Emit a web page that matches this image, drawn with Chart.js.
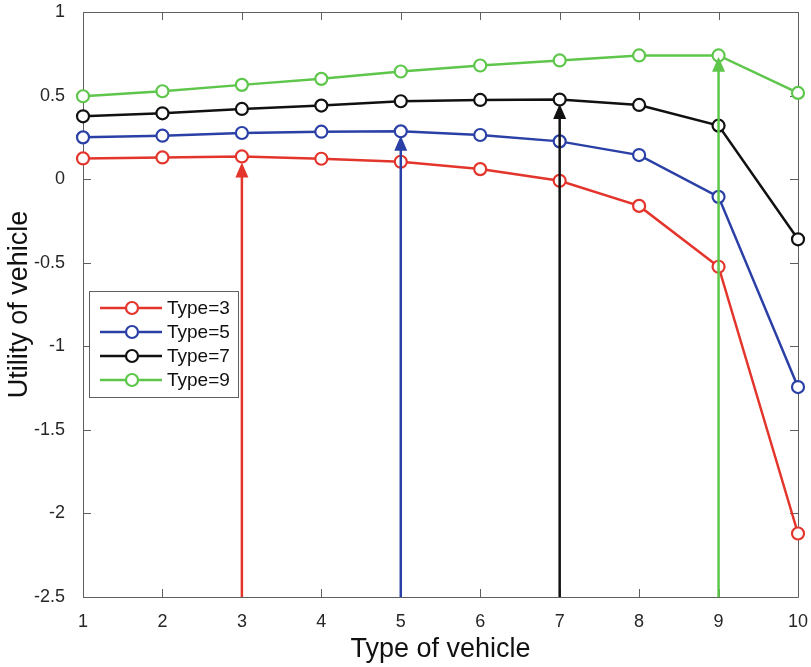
<!DOCTYPE html>
<html>
<head>
<meta charset="utf-8">
<script src="https://cdn.jsdelivr.net/npm/chart.js@4.4.1/dist/chart.umd.min.js"></script>
<style>
    body { margin: 0; background: #fff; }
    #chart { display: block; }
</style>
</head>
<body>
<canvas id="chart" width="811" height="667"></canvas>
<script>
// ===== DATA =====
const vehicleTypes = [1, 2, 3, 4, 5, 6, 7, 8, 9, 10];
const type3 = [0.124, 0.130, 0.136, 0.122, 0.104, 0.060, -0.010, -0.160, -0.524, -2.120];
const type5 = [0.250, 0.260, 0.276, 0.284, 0.286, 0.264, 0.226, 0.144, -0.106, -1.244];
const type7 = [0.376, 0.394, 0.420, 0.440, 0.466, 0.474, 0.476, 0.444, 0.320, -0.360];
const type9 = [0.496, 0.526, 0.564, 0.600, 0.644, 0.680, 0.710, 0.740, 0.740, 0.516];
const seriesLabels = ['Type=3', 'Type=5', 'Type=7', 'Type=9'];
const seriesColors = ['#e3352b', '#2b40a6', '#111111', '#5ec64b'];

// arrows: vertical markers from the bottom up to each type's optimum
const arrowX = [3, 5, 7, 9];
const arrowTop = [0.10, 0.26, 0.45, 0.732];

const yTicks = [1, 0.5, 0, -0.5, -1, -1.5, -2, -2.5];

const AXIS_GRAY = '#5f5f5f';
const TEXT_COLOR = '#262626';
const FONT = '"Liberation Sans", Arial, Helvetica, sans-serif';

function toPoints(values) {
    return vehicleTypes.map((x, i) => ({ x: x, y: values[i] }));
}

// ===== BOX + INWARD TICKS (MATLAB style) =====
const boxPlugin = {
    id: 'boxPlugin',
    beforeDatasetsDraw(chart) {
        const { ctx, chartArea: a, scales: { x, y } } = chart;
        const tl = 8;
        ctx.save();
        ctx.strokeStyle = AXIS_GRAY;
        ctx.lineWidth = 1;
        ctx.beginPath();
        ctx.rect(a.left + 0.5, a.top + 0.5, a.right - a.left, a.bottom - a.top);
        vehicleTypes.forEach(v => {
            const px = Math.round(x.getPixelForValue(v)) + 0.5;
            ctx.moveTo(px, a.bottom); ctx.lineTo(px, a.bottom - tl);
            ctx.moveTo(px, a.top); ctx.lineTo(px, a.top + tl);
        });
        yTicks.forEach(v => {
            const py = Math.round(y.getPixelForValue(v)) + 0.5;
            ctx.moveTo(a.left, py); ctx.lineTo(a.left + tl, py);
            ctx.moveTo(a.right, py); ctx.lineTo(a.right - tl, py);
        });
        ctx.stroke();
        ctx.restore();
    }
};

// ===== ARROWS =====
const arrowPlugin = {
    id: 'arrowPlugin',
    afterDatasetsDraw(chart) {
        const { ctx, scales: { x, y } } = chart;
        const headLen = 15, headHalf = 6.5;
        ctx.save();
        arrowX.forEach((v, i) => {
            const px = x.getPixelForValue(v);
            const yb = y.getPixelForValue(y.min);
            const yt = y.getPixelForValue(arrowTop[i]);
            ctx.strokeStyle = seriesColors[i];
            ctx.fillStyle = seriesColors[i];
            ctx.lineWidth = 2.5;
            ctx.beginPath();
            ctx.moveTo(px, yb);
            ctx.lineTo(px, yt + headLen - 1);
            ctx.stroke();
            ctx.beginPath();
            ctx.moveTo(px, yt);
            ctx.lineTo(px - headHalf, yt + headLen);
            ctx.lineTo(px + headHalf, yt + headLen);
            ctx.closePath();
            ctx.fill();
        });
        ctx.restore();
    }
};

// ===== LEGEND (boxed, inside the axes) =====
const legendPlugin = {
    id: 'legendPlugin',
    afterDraw(chart) {
        const { ctx, chartArea: a } = chart;
        const bx = a.left + 6, by = 291, bw = 149, bh = 106;
        ctx.save();
        ctx.fillStyle = '#fff';
        ctx.fillRect(bx, by, bw, bh);
        ctx.strokeStyle = AXIS_GRAY;
        ctx.lineWidth = 1;
        ctx.strokeRect(bx + 0.5, by + 0.5, bw, bh);
        chart.data.datasets.forEach((ds, i) => {
            const cy = by + 17 + i * 24;
            ctx.strokeStyle = ds.borderColor;
            ctx.lineWidth = 2.5;
            ctx.beginPath();
            ctx.moveTo(bx + 11, cy);
            ctx.lineTo(bx + 73, cy);
            ctx.stroke();
            ctx.fillStyle = '#fff';
            ctx.lineWidth = 2.2;
            ctx.beginPath();
            ctx.arc(bx + 43, cy, 6, 0, Math.PI * 2);
            ctx.fill();
            ctx.stroke();
            ctx.fillStyle = '#111';
            ctx.font = '19px ' + FONT;
            ctx.textAlign = 'left';
            ctx.textBaseline = 'middle';
            ctx.fillText(ds.label, bx + 78, cy + 1);
        });
        ctx.restore();
    }
};

// ===== CHART =====
const datasets = [type3, type5, type7, type9].map((vals, i) => ({
    label: seriesLabels[i],
    data: toPoints(vals),
    borderColor: seriesColors[i],
    backgroundColor: seriesColors[i],
    borderWidth: 2.5,
    pointRadius: 6,
    pointBorderWidth: 2.2,
    pointBackgroundColor: '#fff',
    pointBorderColor: seriesColors[i],
    pointHoverRadius: 6,
    tension: 0,
    clip: false,
    order: 4 - i
}));

new Chart(document.getElementById('chart'), {
    type: 'line',
    data: { datasets: datasets },
    options: {
        responsive: false,
        animation: false,
        devicePixelRatio: 1,
        layout: { padding: { top: 12, right: 13, left: 0, bottom: 0 } },
        plugins: {
            legend: { display: false },
            tooltip: { enabled: false }
        },
        scales: {
            x: {
                type: 'linear',
                min: 1,
                max: 10,
                grid: { display: false },
                border: { display: false },
                afterFit: s => {
                    s.height = 70;
                    s.paddingLeft = 0;
                    s.paddingRight = 0;
                },
                afterBuildTicks: s => { s.ticks = vehicleTypes.map(v => ({ value: v })); },
                ticks: {
                    color: TEXT_COLOR,
                    font: { family: FONT, size: 18 },
                    padding: 6,
                    maxRotation: 0,
                    autoSkip: false,
                    callback: v => String(v)
                },
                title: {
                    display: true,
                    text: 'Type of vehicle',
                    color: '#111',
                    font: { family: FONT, size: 27 },
                    padding: { top: 0, bottom: 1 }
                }
            },
            y: {
                min: -2.5,
                max: 1,
                grid: { display: false },
                border: { display: false },
                afterFit: s => {
                    s.width = 83;
                    s.paddingTop = 0;
                    s.paddingBottom = 0;
                },
                afterBuildTicks: s => { s.ticks = yTicks.map(v => ({ value: v })); },
                ticks: {
                    color: TEXT_COLOR,
                    font: { family: FONT, size: 18 },
                    padding: 10,
                    autoSkip: false,
                    callback: v => String(v)
                },
                title: {
                    display: true,
                    text: 'Utility of vehicle',
                    color: '#111',
                    font: { family: FONT, size: 27 },
                    padding: { top: 3, bottom: 0 }
                }
            }
        }
    },
    plugins: [boxPlugin, arrowPlugin, legendPlugin]
});
</script>
</body>
</html>
